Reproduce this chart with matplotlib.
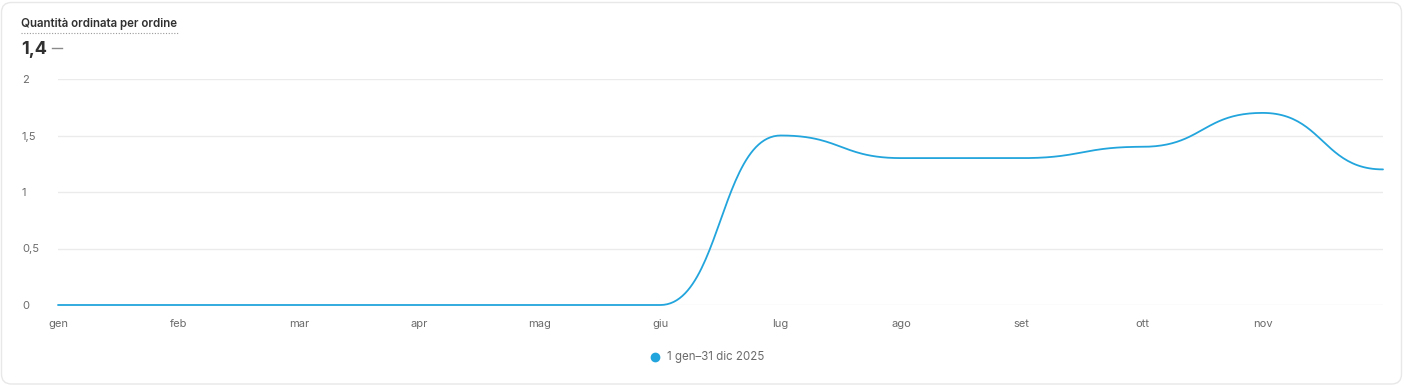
import numpy as np
import matplotlib
matplotlib.use("Agg")
import matplotlib.pyplot as plt
from matplotlib.patches import FancyBboxPatch

months = ["gen", "feb", "mar", "apr", "mag", "giu", "lug", "ago", "set", "ott", "nov", "dic"]
values = [0, 0, 0, 0, 0, 0, 1.5, 1.3, 1.3, 1.4, 1.7, 1.2]
xtick_labels = ["gen", "feb", "mar", "apr", "mag", "giu", "lug", "ago", "set", "ott", "nov"]
yticks = [0, 0.5, 1, 1.5, 2]
ytick_labels = ["0", "0,5", "1", "1,5", "2"]
title = "Quantità ordinata per ordine"
headline = "1,4"
legend_label = "1 gen–31 dic 2025"

LINE = "#22a5dc"
plt.rcParams['font.family'] = ['Inter', 'DejaVu Sans']


def bump_curve(x, y, n=50):
    """d3.curveBumpX style rendering: horizontal tangents at every point."""
    xs, ys = [], []
    for i in range(len(x) - 1):
        t = np.linspace(0, 1, n, endpoint=(i == len(x) - 2))
        x0, x1, y0, y1 = float(x[i]), float(x[i + 1]), float(y[i]), float(y[i + 1])
        xm = (x0 + x1) / 2
        bx = (1 - t) ** 3 * x0 + 3 * (1 - t) ** 2 * t * xm + 3 * (1 - t) * t ** 2 * xm + t ** 3 * x1
        by = (1 - t) ** 3 * y0 + 3 * (1 - t) ** 2 * t * y0 + 3 * (1 - t) * t ** 2 * y1 + t ** 3 * y1
        xs.append(bx); ys.append(by)
    return np.concatenate(xs), np.concatenate(ys)


W, H = 1404, 386
fig = plt.figure(figsize=(W / 100, H / 100), dpi=100)
fig.patch.set_facecolor("white")

card = FancyBboxPatch((1.5 / 100, 2 / 100), (W - 4) / 100, (H - 4.5) / 100,
                      boxstyle="round,pad=0,rounding_size=0.1",
                      transform=fig.dpi_scale_trans, facecolor="white",
                      edgecolor="#e8e8e8", linewidth=1.0, zorder=-10)
fig.add_artist(card)

ax_l, ax_r, ax_t, ax_b = 58, 1383, 79, 305
ax = fig.add_axes([ax_l / W, 1 - ax_b / H, (ax_r - ax_l) / W, (ax_b - ax_t) / H], zorder=5)
ax.set_facecolor("none")
x = np.arange(len(months))
ax.set_xlim(0, len(months) - 1)
ax.set_ylim(0, 2)
for s in ax.spines.values():
    s.set_visible(False)
for yv in yticks:
    ax.axhline(yv, color="#ebebeb", lw=1.0, zorder=1)

cx, cy = bump_curve(x, values)
ax.plot(cx, cy, color=LINE, lw=1.3, clip_on=False, zorder=3, solid_capstyle="round")

ax.set_yticks(yticks)
ax.set_yticklabels(ytick_labels)
ax.tick_params(axis="y", length=0, pad=36 * 0.72, labelsize=8, labelcolor="#6b6b6b")
for lab in ax.get_yticklabels():
    lab.set_horizontalalignment("left")
ax.set_xticks(np.arange(len(xtick_labels)))
ax.set_xticklabels(xtick_labels)
ax.tick_params(axis="x", length=0, pad=10, labelsize=8, labelcolor="#6b6b6b")

fig.text(21 / W, 1 - 24 / H, title, fontsize=8.3, fontweight="semibold", color="#303030",
         ha="left", va="center")
fig.add_artist(plt.Line2D([21 / W, 178 / W], [1 - 32.5 / H, 1 - 32.5 / H],
                          transform=fig.transFigure, color="#9a9a9a", lw=0.8,
                          linestyle=(0, (1, 1.5))))
fig.text(21 / W, 1 - 49 / H, headline, fontsize=13, fontweight="bold", color="#303030",
         ha="left", va="center")
fig.add_artist(plt.Line2D([52 / W, 62 / W], [1 - 48 / H, 1 - 48 / H],
                          transform=fig.transFigure, color="#8a8a8a", lw=1.0))

fig.add_artist(plt.Line2D([655 / W], [1 - 357 / H], transform=fig.transFigure,
                          marker="o", markersize=6, color=LINE, linestyle="none"))
fig.text(667 / W, 1 - 357 / H, legend_label, fontsize=8.3, color="#6b6b6b",
         ha="left", va="center")

fig.savefig("out.png", dpi=100, facecolor="white")
